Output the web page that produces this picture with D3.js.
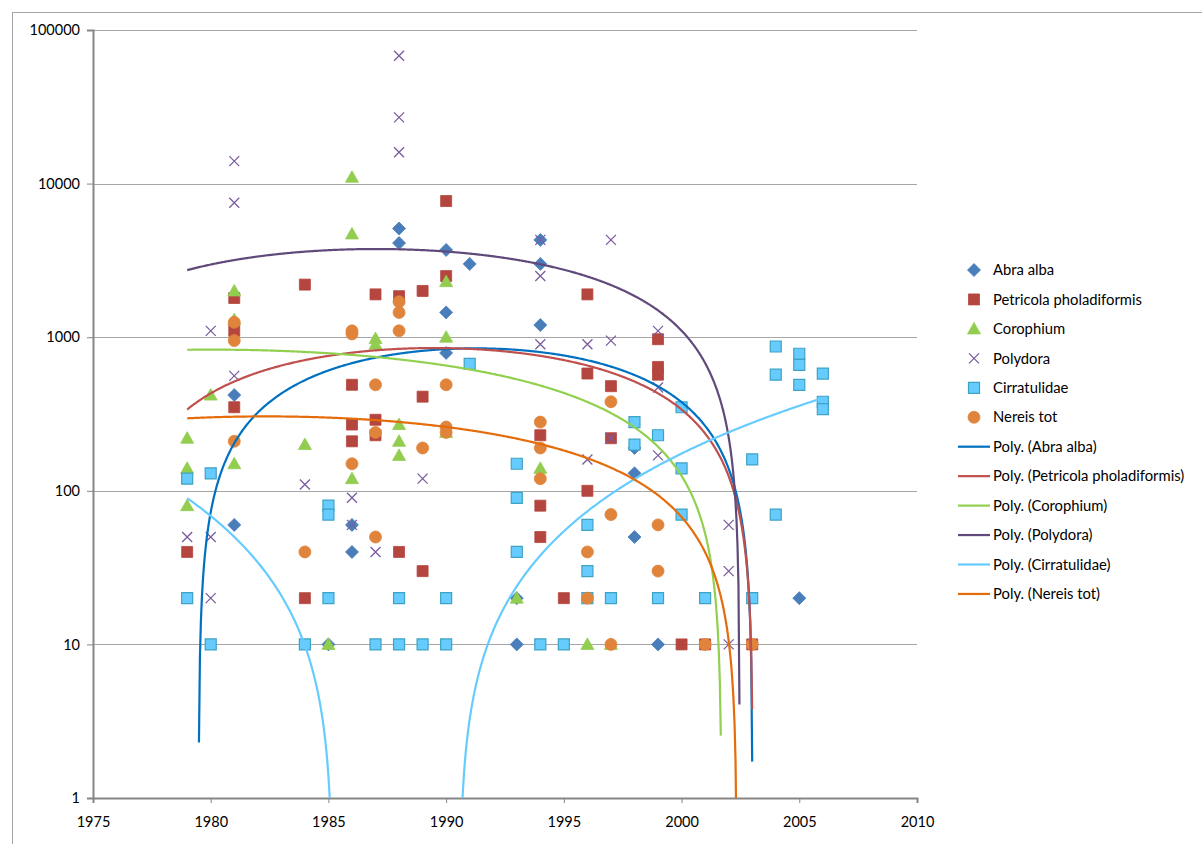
<!DOCTYPE html>
<html>
<head>
<meta charset="utf-8">
<script src="https://cdn.jsdelivr.net/npm/d3@7"></script>
<style>
  body { margin: 0; background: #ffffff; }
  text { font-family: Lato, "Open Sans", "Liberation Sans", sans-serif; fill: #000; }
</style>
</head>
<body>
<svg id="chart" width="1202" height="844"></svg>
<script>
// ---- observations: [year, count] ----
const abraAlba = [
  [1981, 420], [1981, 60], [1985, 10], [1986, 60], [1986, 40],
  [1988, 5100], [1988, 4100], [1990, 3700], [1990, 1450], [1990, 790],
  [1991, 3000], [1993, 20], [1993, 10], [1994, 4300], [1994, 3000], [1994, 1200],
  [1998, 190], [1998, 130], [1998, 50], [1999, 10], [2005, 20]
];
const petricola = [
  [1979, 40], [1981, 1800], [1981, 1100], [1981, 350], [1984, 2200], [1984, 20],
  [1986, 490], [1986, 270], [1986, 210], [1987, 1900], [1987, 290], [1987, 230],
  [1988, 1850], [1988, 40], [1989, 2000], [1989, 410], [1989, 30],
  [1990, 7700], [1990, 2500], [1994, 230], [1994, 80], [1994, 50], [1995, 20],
  [1996, 1900], [1996, 580], [1996, 100], [1997, 480], [1997, 220],
  [1999, 970], [1999, 640], [1999, 570], [2000, 10], [2001, 10], [2003, 10]
];
const corophium = [
  [1979, 220], [1979, 140], [1979, 80], [1980, 420], [1981, 2000], [1981, 1300], [1981, 150],
  [1984, 200], [1985, 10], [1986, 11000], [1986, 4700], [1986, 120],
  [1987, 980], [1987, 900], [1988, 270], [1988, 210], [1988, 170],
  [1990, 2300], [1990, 1000], [1990, 240], [1993, 20], [1994, 140], [1996, 10], [1997, 10]
];
const polydora = [
  [1979, 50], [1980, 1100], [1980, 50], [1980, 20], [1981, 14000], [1981, 7500], [1981, 560],
  [1984, 110], [1986, 90], [1986, 60], [1987, 40], [1988, 68000], [1988, 27000], [1988, 16000],
  [1989, 120], [1994, 4300], [1994, 2500], [1994, 900], [1996, 900], [1996, 160],
  [1997, 4300], [1997, 950], [1997, 220], [1999, 1100], [1999, 470], [1999, 170],
  [2002, 60], [2002, 30], [2002, 10]
];
const cirratulidae = [
  [1979, 120], [1979, 20], [1980, 130], [1980, 10], [1984, 10], [1985, 80], [1985, 70], [1985, 20],
  [1987, 10], [1988, 20], [1988, 10], [1989, 10], [1990, 20], [1990, 10], [1991, 670],
  [1993, 150], [1993, 90], [1993, 40], [1994, 10], [1995, 10], [1996, 60], [1996, 30], [1996, 20],
  [1997, 20], [1998, 280], [1998, 200], [1999, 230], [1999, 20], [2000, 350], [2000, 140], [2000, 70],
  [2001, 20], [2003, 160], [2003, 20], [2004, 870], [2004, 570], [2004, 70],
  [2005, 780], [2005, 660], [2005, 490], [2006, 580], [2006, 380], [2006, 340]
];
const nereisTot = [
  [1981, 1250], [1981, 950], [1981, 210], [1984, 40], [1986, 1100], [1986, 1050], [1986, 150],
  [1987, 490], [1987, 240], [1987, 50], [1988, 1700], [1988, 1450], [1988, 1100], [1989, 190],
  [1990, 490], [1990, 260], [1990, 240], [1994, 280], [1994, 190], [1994, 120],
  [1996, 40], [1996, 20], [1997, 380], [1997, 70], [1997, 10], [1999, 60], [1999, 30],
  [2001, 10], [2003, 10]
];

const seriesNames = ["Abra alba", "Petricola pholadiformis", "Corophium", "Polydora", "Cirratulidae", "Nereis tot"];
const seriesData = [abraAlba, petricola, corophium, polydora, cirratulidae, nereisTot];
const markerShapes = ["diamond", "square", "triangle", "cross", "square", "circle"];
const markerFills = ["#4A7EBB", "#B4463F", "#92CD50", "none", "#66CCFF", "#E0843C"];
const markerStrokes = ["#4A7EBB", "#B4463F", "#92CD50", "#7A5C9E", "#3EA2C2", "#E0843C"];

// second-order polynomial trend of each series, y = lead * (x - lowRoot) * (x - highRoot)
const trendLowRoot  = [1979.484, 1975.97, 1958.3, 1971.593, 1985.2, 1962.35];
const trendHighRoot = [2003.012, 2003.03, 2001.70, 2002.4667, 1990.55, 2002.35];
const trendLead     = [-6.113, -4.643, -1.7626, -15.736, 1.25, -0.7625];
const trendSpan = [1979, 2006];
const trendStepsPerYear = 24;
const trendColors = ["#0070C0", "#C0504D", "#92D050", "#604A7B", "#66CCFF", "#E46C0A"];

const xTicks = [1975, 1980, 1985, 1990, 1995, 2000, 2005, 2010];
const yTicks = [1, 10, 100, 1000, 10000, 100000];

// ---- layout ----
const svg = d3.select("#chart");
const plot = { left: 93, right: 917, top: 30, bottom: 798 };

const x = d3.scaleLinear().domain([1975, 2010]).range([plot.left, plot.right]);
const y = d3.scaleLog().domain([1, 100000]).range([plot.bottom, plot.top]);

// chart frame
svg.append("rect")
  .attr("x", 12.5).attr("y", 12.5).attr("width", 1200).attr("height", 840)
  .attr("fill", "#fff").attr("stroke", "#A6A6A6").attr("stroke-width", 1);

// horizontal gridlines
svg.append("g").selectAll("line").data(yTicks.slice(1)).join("line")
  .attr("x1", plot.left).attr("x2", plot.right)
  .attr("y1", d => Math.round(y(d)) + 0.5).attr("y2", d => Math.round(y(d)) + 0.5)
  .attr("stroke", "#A6A6A6").attr("stroke-width", 1);

// y axis
const yAxis = d3.axisLeft(y).tickValues(yTicks).tickFormat(d3.format("d")).tickSize(6).tickPadding(7);
const gy = svg.append("g").attr("transform", `translate(${plot.left},0)`).call(yAxis);
gy.select(".domain").attr("stroke", "#868686").attr("stroke-width", 2);
gy.selectAll(".tick line").attr("stroke", "#868686");
gy.selectAll(".tick text").style("font-size", "14.5px").style("font-family", "Lato, 'Open Sans', sans-serif").attr("fill", "#000");

// x axis
const xAxis = d3.axisBottom(x).tickValues(xTicks).tickFormat(d3.format("d")).tickSize(5).tickPadding(14);
const gx = svg.append("g").attr("transform", `translate(0,${plot.bottom})`).call(xAxis);
gx.select(".domain").attr("stroke", "#868686").attr("stroke-width", 2);
gx.selectAll(".tick line").attr("stroke", "#868686");
gx.selectAll(".tick text").style("font-size", "14.5px").style("font-family", "Lato, 'Open Sans', sans-serif").attr("fill", "#000");

// clip for the plotting area
svg.append("clipPath").attr("id", "plotClip").append("rect")
  .attr("x", plot.left).attr("y", plot.top)
  .attr("width", plot.right - plot.left).attr("height", plot.bottom - plot.top);

// marker path generator centred at 0,0
function markerPath(shape) {
  switch (shape) {
    case "diamond": return "M0,-6.5L6.5,0L0,6.5L-6.5,0Z";
    case "square": return "M-5.5,-5.5H5.5V5.5H-5.5Z";
    case "triangle": return "M0,-6.5L6.5,5L-6.5,5Z";
    case "cross": return "M-5,-5L5,5M-5,5L5,-5";
    case "circle": return d3.symbol(d3.symbolCircle, 113)();
  }
}

function drawMarker(g, i) {
  g.append("path")
    .attr("d", markerPath(markerShapes[i]))
    .attr("fill", markerFills[i])
    .attr("stroke", markerStrokes[i])
    .attr("stroke-width", markerShapes[i] === "cross" ? 1.3 : (markerShapes[i] === "square" && i === 4 ? 1.2 : 0.8));
}

// points
const pointsLayer = svg.append("g").attr("clip-path", "url(#plotClip)");
seriesData.forEach((data, i) => {
  pointsLayer.append("g").selectAll("g").data(data).join("g")
    .attr("transform", d => `translate(${x(d[0])},${y(d[1])})`)
    .each(function () { drawMarker(d3.select(this), i); });
});

// trend lines
const trendLayer = svg.append("g").attr("clip-path", "url(#plotClip)");
const steps = (trendSpan[1] - trendSpan[0]) * trendStepsPerYear;
const line = d3.line()
  .defined(d => d[1] > 0)
  .x(d => x(d[0]))
  .y(d => y(Math.max(d[1], 1e-3)));
seriesData.forEach((data, i) => {
  const samples = d3.range(steps + 1).map(k => {
    const yr = trendSpan[0] + k / trendStepsPerYear;
    return [yr, trendLead[i] * (yr - trendLowRoot[i]) * (yr - trendHighRoot[i])];
  });
  trendLayer.append("path")
    .attr("d", line(samples))
    .attr("fill", "none")
    .attr("stroke", trendColors[i])
    .attr("stroke-width", 2.2);
});

// legend
const legend = svg.append("g").attr("transform", "translate(974,270)");
const rowGap = 29.45;
seriesNames.forEach((name, i) => {
  const row = legend.append("g").attr("transform", `translate(0,${i * rowGap})`);
  drawMarker(row, i);
  row.append("text").attr("x", 19).attr("y", 0).attr("dy", "0.35em")
    .style("font-size", "14.8px").text(name);
});
seriesNames.forEach((name, i) => {
  const row = legend.append("g").attr("transform", `translate(0,${(i + 6) * rowGap})`);
  row.append("line").attr("x1", -16).attr("x2", 16).attr("y1", 0).attr("y2", 0)
    .attr("stroke", trendColors[i]).attr("stroke-width", 2.2);
  row.append("text").attr("x", 19).attr("y", 0).attr("dy", "0.35em")
    .style("font-size", "14.8px").text(`Poly. (${name})`);
});
</script>
</body>
</html>
